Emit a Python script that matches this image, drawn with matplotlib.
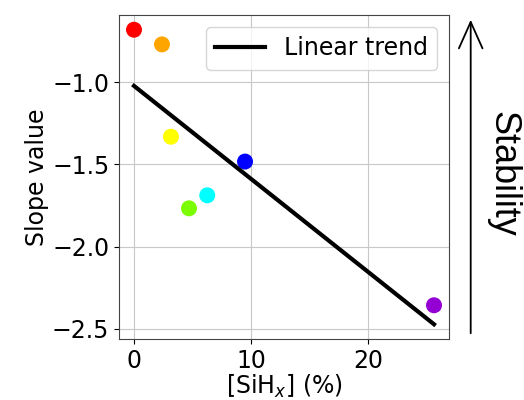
import numpy as np
import matplotlib
matplotlib.use("Agg")
import matplotlib.pyplot as plt

# SiHx content (%) and slope values
sihx = [0.0, 2.39, 3.16, 4.70, 6.26, 9.49, 25.64]
slope = [-0.682, -0.771, -1.332, -1.767, -1.688, -1.483, -2.356]
colors = ['red', 'orange', 'yellow', 'lawngreen', 'cyan', 'blue', 'darkviolet']

x = np.array(sihx)
y = np.array(slope)
p = np.polyfit(x, y, 1)
xfit = np.array([x.min(), x.max()])
yfit = np.polyval(p, xfit)

fig = plt.figure(figsize=(5.24, 4.0), dpi=100)
ax = fig.add_axes([119/524, 61/400, 330/524, 324/400])

ax.scatter(x, y, c=colors, s=110, zorder=2)
ax.plot(xfit, yfit, color='black', linewidth=3, label='Linear trend', zorder=3)
ax.grid(True, color='#c8c8c8')
ax.set_axisbelow(True)
for sp in ax.spines.values():
    sp.set_color('#444444')

ax.set_xlabel('[SiH$_x$] (%)', fontsize=17, labelpad=0)
ax.set_ylabel('Slope value', fontsize=17, labelpad=2)
ax.tick_params(labelsize=17)
ax.set_xticks([0, 10, 20])
ax.set_yticks([-1.0, -1.5, -2.0, -2.5])
ax.legend(loc='upper right', fontsize=17, handlelength=2.1)

# stability arrow and label to the right of the axes
fig.patches.append(matplotlib.patches.FancyArrowPatch(
    (470.7/524, 1 - 336/400), (470.7/524, 1 - 17/400),
    transform=fig.transFigure, arrowstyle='->,head_length=19,head_width=8.5',
    color='black', linewidth=1.3, mutation_scale=1))
fig.text(503/524, 1 - 174/400, 'Stability', rotation=-90, fontsize=26,
         family='Liberation Sans', ha='center', va='center')

fig.savefig('out.png', dpi=100)
